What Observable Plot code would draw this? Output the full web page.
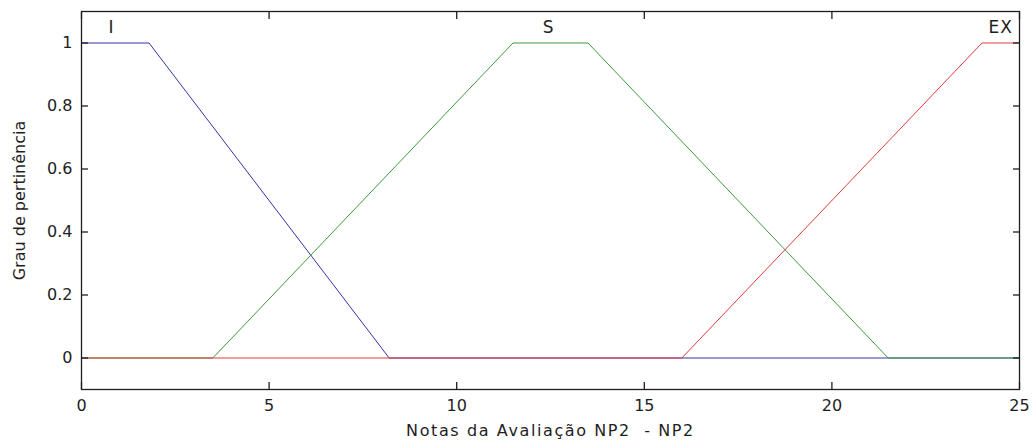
<!DOCTYPE html>
<html>
<head>
<meta charset="utf-8">
<script src="https://cdn.jsdelivr.net/npm/d3@7"></script>
<script src="https://cdn.jsdelivr.net/npm/@observablehq/plot@0.6"></script>
<style>
  html, body { margin: 0; padding: 0; background: #fff; }
  #chart svg { display: block; }
  #chart g[aria-label="x-axis label"] text { letter-spacing: 1.6px; }
  #chart g[aria-label="text"] text { letter-spacing: 1px; }
</style>
</head>
<body>
<div id="chart"></div>
<script>
// ---- data ----
const xTicks = [0, 5, 10, 15, 20, 25];
const yTicks = [0, 0.2, 0.4, 0.6, 0.8, 1];
const seriesNames = ["I", "S", "EX"];
const iX = [0, 1.8, 8.2, 25];
const iY = [1, 1, 0, 0];
const sX = [0, 3.5, 11.5, 13.5, 21.5, 25];
const sY = [0, 0, 1, 1, 0, 0];
const exX = [0, 16, 24, 25];
const exY = [0, 0, 1, 1];
const labelX = [0.8, 12.45, 24.5];
const labelY = [1.048, 1.048, 1.048];
const colors = ["#3232a6", "#3c9a3c", "#e23a3a"];
const xLabel = "Notas da Avaliação NP2  - NP2";
const yLabel = "Grau de pertinência";

const xs = [iX, sX, exX];
const ys = [iY, sY, exY];
const rows = [];
seriesNames.forEach((name, k) => {
  xs[k].forEach((x, j) => rows.push({name, x, y: ys[k][j]}));
});
const labels = seriesNames.map((name, k) => ({name, x: labelX[k], y: labelY[k]}));

const font = "DejaVu Sans, Verdana, sans-serif";
const ink = "#1e1e1e";
const tickLen = 7;
const blank = () => "";

const chart = Plot.plot({
  width: 1032,
  height: 441,
  marginLeft: 81,
  marginRight: 13,
  marginTop: 11,
  marginBottom: 52,
  style: {fontFamily: font, fontSize: "15px", color: ink, background: "#fff"},
  x: {domain: [0, 25]},
  y: {domain: [-0.1, 1.1]},
  color: {domain: seriesNames, range: colors},
  marks: [
    Plot.line(rows, {x: "x", y: "y", z: "name", stroke: "name", strokeWidth: 1}),
    Plot.text(labels, {x: "x", y: "y", text: "name", fontSize: 17, fill: ink}),
    Plot.frame({stroke: ink, strokeWidth: 1.3}),
    // inward ticks on all four sides (axis ticks shifted inside the frame)
    Plot.axisX(xTicks, {anchor: "bottom", tickSize: tickLen, dy: -tickLen, tickFormat: blank, label: null, stroke: ink, strokeWidth: 1.3}),
    Plot.axisX(xTicks, {anchor: "top", tickSize: tickLen, dy: tickLen, tickFormat: blank, label: null, stroke: ink, strokeWidth: 1.3}),
    Plot.axisY(yTicks, {anchor: "left", tickSize: tickLen, dx: tickLen, tickFormat: blank, label: null, stroke: ink, strokeWidth: 1.3}),
    Plot.axisY(yTicks, {anchor: "right", tickSize: tickLen, dx: -tickLen, tickFormat: blank, label: null, stroke: ink, strokeWidth: 1.3}),
    // tick labels and axis titles
    Plot.axisX(xTicks, {anchor: "bottom", tickSize: 0, tickPadding: 10, tickFormat: d => String(d), fontSize: 16, fill: ink,
      label: xLabel, labelAnchor: "center", labelOffset: 46, labelArrow: "none"}),
    Plot.axisY(yTicks, {anchor: "left", tickSize: 0, tickPadding: 9, tickFormat: d => String(d), fontSize: 16, fill: ink,
      label: yLabel, labelAnchor: "center", labelOffset: 68, labelArrow: "none"})
  ]
});
document.getElementById("chart").appendChild(chart);
</script>
</body>
</html>
